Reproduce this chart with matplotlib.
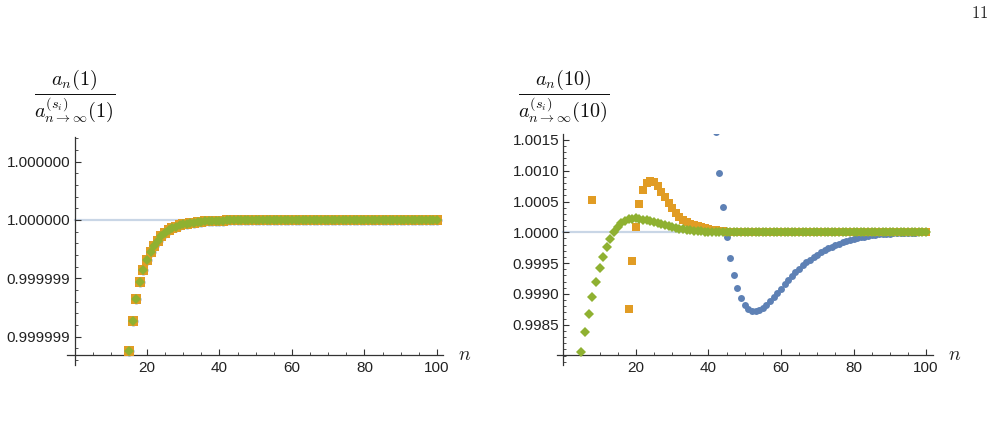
import numpy as np
import matplotlib
matplotlib.use("Agg")
import matplotlib.pyplot as plt
from matplotlib.ticker import MultipleLocator, FixedLocator

plt.rcParams['mathtext.fontset'] = 'cm'
plt.rcParams['font.family'] = ['Liberation Sans', 'DejaVu Sans']

# ---- datos ----
# panel izquierdo: a_n(1)/a_inf(1) - 1, en unidades de 1e-7 (las tres series coinciden)
n_izq = list(range(15, 101))
dev_izq = [-11.24, -8.69, -6.75, -5.32, -4.26, -3.43, -2.77, -2.23, -1.78, -1.37,
           -1.09, -0.86, -0.69, -0.57, -0.45, -0.37, -0.31, -0.26, -0.22, -0.18,
           -0.15, -0.12, -0.10, -0.08, -0.07, -0.06, -0.05, -0.04, -0.03, -0.03,
           -0.02, -0.02, -0.02, -0.01, -0.01, -0.01, 0, 0, 0, 0,
           0, 0, 0, 0, 0, 0, 0, 0, 0, 0,
           0, 0, 0, 0, 0, 0, 0, 0, 0, 0,
           0, 0, 0, 0, 0, 0, 0, 0, 0, 0,
           0, 0, 0, 0, 0, 0, 0, 0, 0, 0,
           0, 0, 0, 0, 0, 0]

# panel derecho: a_n(10)/a_inf(10) - 1, en unidades de 1e-4
n_azul = list(range(42, 101))
dev_azul = [16.3, 9.68, 4.1, -0.71, -4.12, -6.93, -9.09, -10.67, -11.8, -12.45,
            -12.73, -12.78, -12.6, -12.24, -11.75, -11.2, -10.55, -9.85, -9.15, -8.44,
            -7.74, -7.1, -6.5, -5.9, -5.36, -4.87, -4.45, -4.0, -3.63, -3.25,
            -2.92, -2.6, -2.34, -2.06, -1.85, -1.62, -1.41, -1.25, -1.09, -0.93,
            -0.82, -0.7, -0.6, -0.5, -0.42, -0.35, -0.29, -0.24, -0.2, -0.16,
            -0.13, -0.1, -0.08, -0.06, -0.05, -0.04, -0.03, -0.02, -0.02]

n_naranja = [8] + list(range(18, 101))
dev_naranja = [5.24,
               -12.45, -4.6, 0.91, 4.64, 6.92, 8.05, 8.33, 8.1, 7.5, 6.6,
               5.68, 4.8, 3.9, 3.08, 2.43, 2.0, 1.67, 1.4, 1.2, 1.02,
               0.87, 0.74, 0.6, 0.45, 0.35, 0.25, 0.18, 0.12, 0.08, 0.05,
               0.03, 0.02, 0.01, 0, 0, 0, 0, 0, 0, 0,
               0, 0, 0, 0, 0, 0, 0, 0, 0, 0,
               0, 0, 0, 0, 0, 0, 0, 0, 0, 0,
               0, 0, 0, 0, 0, 0, 0, 0, 0, 0,
               0, 0, 0, 0, 0, 0, 0, 0, 0, 0,
               0, 0, 0]

n_verde = list(range(5, 101))
dev_verde = [-19.4, -16.2, -13.3, -10.5, -8.1, -5.85, -3.96, -2.39, -1.04, 0.1,
             0.91, 1.46, 1.88, 2.11, 2.21, 2.27, 2.16, 2.05, 1.92, 1.78,
             1.62, 1.46, 1.3, 1.14, 0.99, 0.85, 0.72, 0.6, 0.5, 0.4,
             0.32, 0.25, 0.19, 0.14, 0.1, 0.06, 0.03, 0.01, -0.01, -0.02,
             -0.03, -0.03, -0.03, -0.03, -0.02, -0.02, -0.02, -0.01, -0.01, -0.01,
             -0.01, 0, 0, 0, 0, 0, 0, 0, 0, 0,
             0, 0, 0, 0, 0, 0, 0, 0, 0, 0,
             0, 0, 0, 0, 0, 0, 0, 0, 0, 0,
             0, 0, 0, 0, 0, 0, 0, 0, 0, 0,
             0, 0, 0, 0, 0, 0]

ticks_izq = [1 + 5e-7, 1.0, 1 - 5e-7, 1 - 1e-6]
etiquetas_izq = ['1.000000', '1.000000', '0.999999', '0.999999']
ticks_der = [0.9985, 0.9990, 0.9995, 1.0000, 1.0005, 1.0010, 1.0015]

azul, naranja, verde = '#5E81B5', '#E19C24', '#8FB131'
gris_ref = '#C9D6E6'
eje = '#333333'

W, H = 996, 426
fig = plt.figure(figsize=(W / 100, H / 100), dpi=100)


def caja(x0, x1, ytop, ybot):
    return [x0 / W, 1 - ybot / H, (x1 - x0) / W, (ybot - ytop) / H]


def estilo(ax, ybase, xmin, xmax, ylo, yhi):
    ax.set_xlim(xmin, xmax)
    ax.set_ylim(ylo, yhi)
    ax.spines['top'].set_visible(False)
    ax.spines['right'].set_visible(False)
    ax.spines['left'].set_position(('data', 0))
    ax.spines['bottom'].set_position(('data', ybase))
    for s in ('left', 'bottom'):
        ax.spines[s].set_color(eje)
        ax.spines[s].set_linewidth(0.9)
    ax.xaxis.set_major_locator(FixedLocator([20, 40, 60, 80, 100]))
    ax.xaxis.set_minor_locator(MultipleLocator(5))
    ax.tick_params(which='both', direction='in', colors=eje, labelcolor='#222222',
                   labelsize=11)
    ax.tick_params(which='major', length=4, width=0.8)
    ax.tick_params(which='minor', length=2.5, width=0.6)
    ax.tick_params(axis='x', pad=4)
    ax.tick_params(axis='y', pad=3)
    ax.axhline(1.0, xmin=(0 - xmin) / (xmax - xmin), xmax=(100 - xmin) / (xmax - xmin),
               color=gris_ref, lw=1.6, zorder=1)
    ax.patch.set_alpha(0)


# ---- panel izquierdo ----
ax1 = fig.add_axes(caja(67, 443, 137, 365))
y_izq = 1 + np.array(dev_izq) * 1e-7
ax1.plot(n_izq, y_izq, 'o', color=azul, ms=7, mew=0, zorder=2)
ax1.plot(n_izq, y_izq, 's', color=naranja, ms=7.2, mew=0, zorder=3)
ax1.plot(n_izq, y_izq, 'D', color=verde, ms=5.4, mew=0, zorder=4)
estilo(ax1, 1 - 11.58e-7, -2.07, 101.66, 1 - 12.44e-7, 1 + 7.12e-7)
ax1.yaxis.set_major_locator(FixedLocator(ticks_izq))
ax1.set_yticklabels(etiquetas_izq)
ax1.yaxis.set_minor_locator(FixedLocator([1 + k * 1e-7 for k in range(-12, 8)]))

# ---- panel derecho ----
ax2 = fig.add_axes(caja(556.7, 933, 134, 365))
ax2.plot(n_azul, 1 + np.array(dev_azul) * 1e-4, 'o', color=azul, ms=5.0, mew=0, zorder=2)
ax2.plot(n_naranja, 1 + np.array(dev_naranja) * 1e-4, 's', color=naranja, ms=6.3, mew=0, zorder=3)
ax2.plot(n_verde, 1 + np.array(dev_verde) * 1e-4, 'D', color=verde, ms=4.7, mew=0, zorder=4)
estilo(ax2, 0.998003, -1.82, 101.9, 0.997846, 1.001596)
ax2.yaxis.set_major_locator(FixedLocator(ticks_der))
ax2.set_yticklabels(['%.4f' % t for t in ticks_der])
ax2.yaxis.set_minor_locator(MultipleLocator(0.0001))

# ---- textos ----
fig.text(75 / W, 1 - 96 / H, r'$\dfrac{a_n(1)}{a^{(s_i)}_{n\to\infty}(1)}$',
         ha='center', va='center', fontsize=14.5, color='#111111')
fig.text(564 / W, 1 - 96 / H, r'$\dfrac{a_n(10)}{a^{(s_i)}_{n\to\infty}(10)}$',
         ha='center', va='center', fontsize=14.5, color='#111111')
fig.text(465 / W, 1 - 355 / H, r'$n$', ha='center', va='center', fontsize=14, color='#222222')
fig.text(955 / W, 1 - 355 / H, r'$n$', ha='center', va='center', fontsize=14, color='#222222')
fig.text(980 / W, 1 - 13 / H, r'$\mathrm{11}$', ha='center', va='center', fontsize=12, color='#222222')

fig.savefig('out.png', dpi=100)
